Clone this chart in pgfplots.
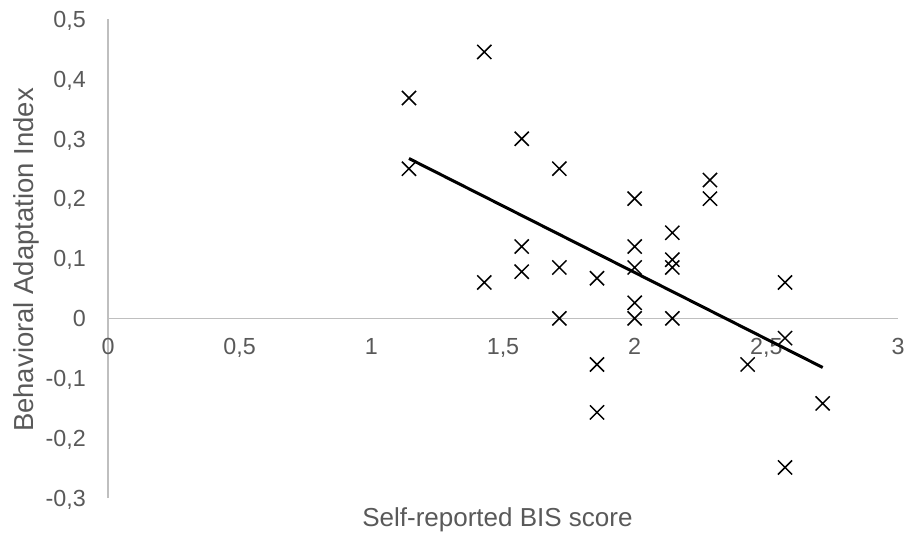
\documentclass[border=0pt]{standalone}
\usepackage{pgfplots}
\pgfplotsset{compat=1.18}
\usepackage{fontspec}
\setmainfont{Liberation Sans}
\definecolor{axgray}{HTML}{BFBFBF}
\definecolor{txtgray}{HTML}{595959}

\begin{document}
\begin{tikzpicture}
\begin{axis}[
  at={(0pt,0pt)}, anchor=south west,
  scale only axis, width=790pt, height=479pt,
  xmin=0, xmax=3, ymin=-0.3, ymax=0.5,
  axis lines=middle,
  axis line style={-, draw=axgray, line width=1.2pt},
  xtick={0,0.5,1,1.5,2,2.5,3},
  ytick={-0.3,-0.2,-0.1,0,0.1,0.2,0.3,0.4,0.5},
  major tick length=0pt,
  hide obscured x ticks=false, hide obscured y ticks=false,
  /pgf/number format/use comma,
  /pgf/number format/assume math mode=true,
  tick label style={font=\fontsize{23.3}{28}\selectfont, text=txtgray, inner sep=0pt},
  xticklabel style={anchor=north, yshift=-19.5pt},
  yticklabel style={anchor=base east, xshift=-22pt, yshift=-8.3pt},
  clip=false,
]
\addplot[only marks, mark=x, mark size=10pt, mark options={line width=1.5pt}, black] coordinates {
(1.143,0.368) (1.143,0.25)
(1.429,0.445) (1.429,0.06)
(1.571,0.30) (1.571,0.12) (1.571,0.078)
(1.714,0.25) (1.714,0.085) (1.714,0)
(1.857,0.067) (1.857,-0.077) (1.857,-0.157)
(2,0.2) (2,0.12) (2,0.085) (2,0.026) (2,0)
(2.143,0.143) (2.143,0.098) (2.143,0.085) (2.143,0)
(2.286,0.231) (2.286,0.2)
(2.429,-0.077)
(2.571,0.06) (2.571,-0.033) (2.571,-0.249)
(2.714,-0.142)
};
\addplot[black, line width=3pt, no marks] coordinates {(1.143,0.267) (2.714,-0.082)};
\node[font=\fontsize{26}{31}\selectfont, text=txtgray, anchor=base] at (axis description cs:0.493,-0.0605) {Self-reported BIS score};
\node[font=\fontsize{27.5}{33}\selectfont, text=txtgray, anchor=base, rotate=90] at (axis description cs:-0.0949,0.497) {Behavioral Adaptation Index};
\end{axis}
\pgfresetboundingbox
\path[use as bounding box] (-108pt,-35pt) rectangle (800pt,498pt);
\end{tikzpicture}
\end{document}
